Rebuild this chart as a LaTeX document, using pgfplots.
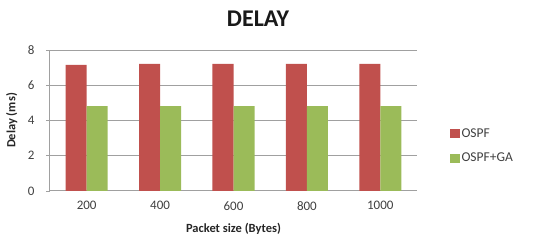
\documentclass[border=0pt]{standalone}
\usepackage{pgfplots}
\pgfplotsset{compat=1.18}
\usepackage{fontspec}
\setmainfont{Carlito}
\definecolor{ospf}{HTML}{C0504D}
\definecolor{ga}{HTML}{9BBB59}
\definecolor{axgray}{HTML}{A0A0A0}
\begin{document}
\begin{tikzpicture}[x=1pt,y=1pt]
\useasboundingbox (0,0) rectangle (557,243);
\begin{axis}[
  at={(50pt,52pt)}, anchor=south west,
  scale only axis, width=367pt, height=141pt,
  ybar, bar width=21pt,
  xmin=-0.5, xmax=4.5, ymin=0, ymax=8,
  ytick={0,2,4,6,8},
  xtick={0,1,2,3,4},
  xticklabels={200,400,600,800,1000},
  minor xtick={-0.5,0.5,1.5,2.5,3.5,4.5},
  xtick style={draw=none},
  minor tick length=4pt,
  major tick length=4pt,
  tick align=outside,
  axis x line*=bottom, axis y line*=left,
  axis line style={axgray, line width=1pt, -},
  every tick/.style={axgray, line width=0.8pt},
  ymajorgrids, grid style={axgray, line width=1pt},
  ticklabel style={font=\fontsize{13}{13}\selectfont, text=black!75},
  yticklabel style={xshift=-8pt},
  xticklabel style={yshift=-3pt},
  /pgf/number format/assume math mode=true,
  xlabel={\bfseries Packet size (Bytes)},
  ylabel={\bfseries Delay (ms)},
  label style={font=\fontsize{12.5}{12.5}\selectfont, text=black!85},
  xlabel style={at={(axis description cs:0.5,-0.27)}, anchor=center},
  ylabel style={at={(axis description cs:-0.104,0.5)}, anchor=center, rotate=0},
  legend style={at={(1.08,0.32)}, anchor=west, draw=none, fill=none,
    font=\fontsize{13.5}{13.5}\selectfont, text=black!75, row sep=10pt},
  legend cell align=left,
  legend image code/.code={\fill[#1] (0pt,-4.5pt) rectangle (10pt,4.5pt);},
]
\addplot[fill=ospf, draw=none, bar shift=-10.5pt] coordinates {(0,7.15) (1,7.22) (2,7.22) (3,7.22) (4,7.22)};
\addplot[fill=ga, draw=none, bar shift=10.5pt] coordinates {(0,4.82) (1,4.82) (2,4.82) (3,4.82) (4,4.82)};
\legend{OSPF, OSPF+GA}
\end{axis}
\node[font=\bfseries\fontsize{24}{24}\selectfont, text=black!90] at (258,224) {DELAY};
\end{tikzpicture}
\end{document}
